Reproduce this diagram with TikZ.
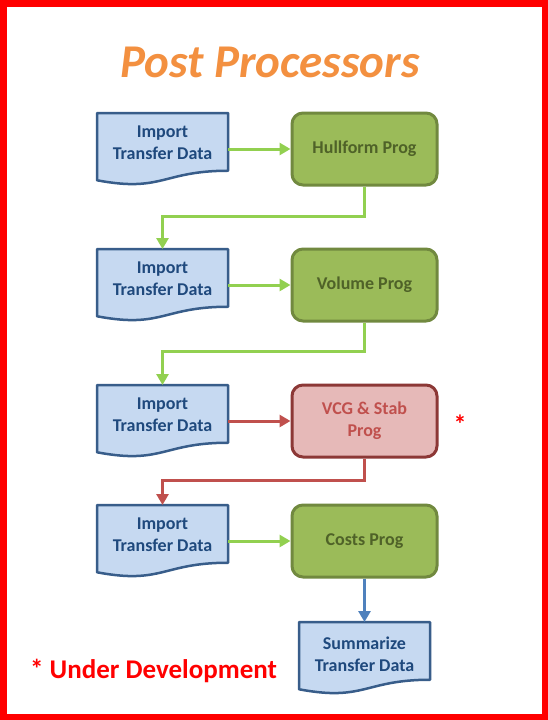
\documentclass[tikz,border=0pt]{standalone}
\usepackage{fontspec}
\setmainfont{Carlito}
\usetikzlibrary{arrows.meta,calc}
\definecolor{docfill}{HTML}{C6D9F1}
\definecolor{docborder}{HTML}{385D8A}
\definecolor{doctxt}{HTML}{1F497D}
\definecolor{gfill}{HTML}{9BBB59}
\definecolor{gborder}{HTML}{71893F}
\definecolor{gtext}{HTML}{4F6228}
\definecolor{rfill}{HTML}{E6B9B8}
\definecolor{rborder}{HTML}{8C3836}
\definecolor{rtext}{HTML}{C0504D}
\definecolor{garrow}{HTML}{92D050}
\definecolor{rarrow}{HTML}{C0504D}
\definecolor{barrow}{HTML}{4F81BD}
\definecolor{titleorange}{HTML}{F39040}
\newcommand\docshape[1]{%
  \path[docline] (#1.north west) -- (#1.north east)
    -- ($(#1.north east)!0.802!(#1.south east)$)
    .. controls ($(#1.north)!0.802!(#1.south)$) and ($(#1.north)!1.107!(#1.south)$) ..
    ($(#1.north west)!0.934!(#1.south west)$) -- cycle;}
\begin{document}
\begin{tikzpicture}[x=1pt,y=-1pt,
  docnode/.style={rectangle,minimum width=131pt,minimum height=72pt,inner sep=0pt,outer sep=0pt},
  doctext/.style={text=doctxt,font=\bfseries\fontsize{18}{22}\selectfont,align=center,inner sep=0pt},
  docline/.style={draw=docborder,fill=docfill,line width=2.5pt,line join=round},
  progbox/.style={rectangle,rounded corners=11pt,minimum width=145pt,minimum height=72pt,line width=3pt,font=\bfseries\fontsize{18}{22}\selectfont,align=center},
  greenbox/.style={progbox,draw=gborder,fill=gfill,text=gtext},
  redbox/.style={progbox,draw=rborder,fill=rfill,text=rtext},
  conn/.style={line width=3pt,-{Triangle[length=11pt,width=12pt]}},
  gconn/.style={conn,draw=garrow},
  rconn/.style={conn,draw=rarrow},
  bconn/.style={conn,draw=barrow}]
\useasboundingbox (0,0) rectangle (548,720);
\fill[white] (0,0) rectangle (548,720);
\draw[red,line width=6.5pt] (3.25,3.25) rectangle (544.75,716.75);
% title
\node[text=titleorange,font=\bfseries\itshape\fontsize{47}{56}\selectfont] (title) at (270,62) {Post Processors};
% document shapes
\node[docnode] (d1) at (162.5,149) {};
\node[docnode] (d2) at (162.5,285) {};
\node[docnode] (d3) at (162.5,421) {};
\node[docnode] (d4) at (162.5,541) {};
\node[docnode] (d5) at (364.5,658) {};
\docshape{d1}\docshape{d2}\docshape{d3}\docshape{d4}\docshape{d5}
\node[doctext] (d1t) at ($(d1.center)+(0,-6)$) {Import\\Transfer Data};
\node[doctext] (d2t) at ($(d2.center)+(0,-6)$) {Import\\Transfer Data};
\node[doctext] (d3t) at ($(d3.center)+(0,-6)$) {Import\\Transfer Data};
\node[doctext] (d4t) at ($(d4.center)+(0,-6)$) {Import\\Transfer Data};
\node[doctext] (d5t) at ($(d5.center)+(0,-4)$) {Summarize\\Transfer Data};
% program boxes
\node[greenbox] (g1) at (364.5,149) {Hullform Prog};
\node[greenbox] (g2) at (364.5,285) {Volume Prog};
\node[redbox] (g3) at (364.5,421) {VCG \& Stab\\Prog};
\node[greenbox] (g4) at (364.5,541) {Costs Prog};
% connectors
\draw[gconn] (d1.east) -- (g1.west);
\draw[gconn] (d2.east) -- (g2.west);
\draw[rconn] (d3.east) -- (g3.west);
\draw[gconn] (d4.east) -- (g4.west);
\draw[gconn] (g1.south) -- ++(0,30) -| (d2.north);
\draw[gconn] (g2.south) -- ++(0,29) -| (d3.north);
\draw[rconn] (g3.south) -- ++(0,22) -| (d4.north);
\draw[bconn] (g4.south) -- (d5.north);
% notes
\node[text=red,font=\bfseries\fontsize{26}{30}\selectfont,inner sep=0pt] (star) at (460,424) {*};
\node[text=red,font=\bfseries\fontsize{27}{32}\selectfont,anchor=base west,inner sep=0pt] (note) at (30,678) {* Under Development};
\end{tikzpicture}
\end{document}
